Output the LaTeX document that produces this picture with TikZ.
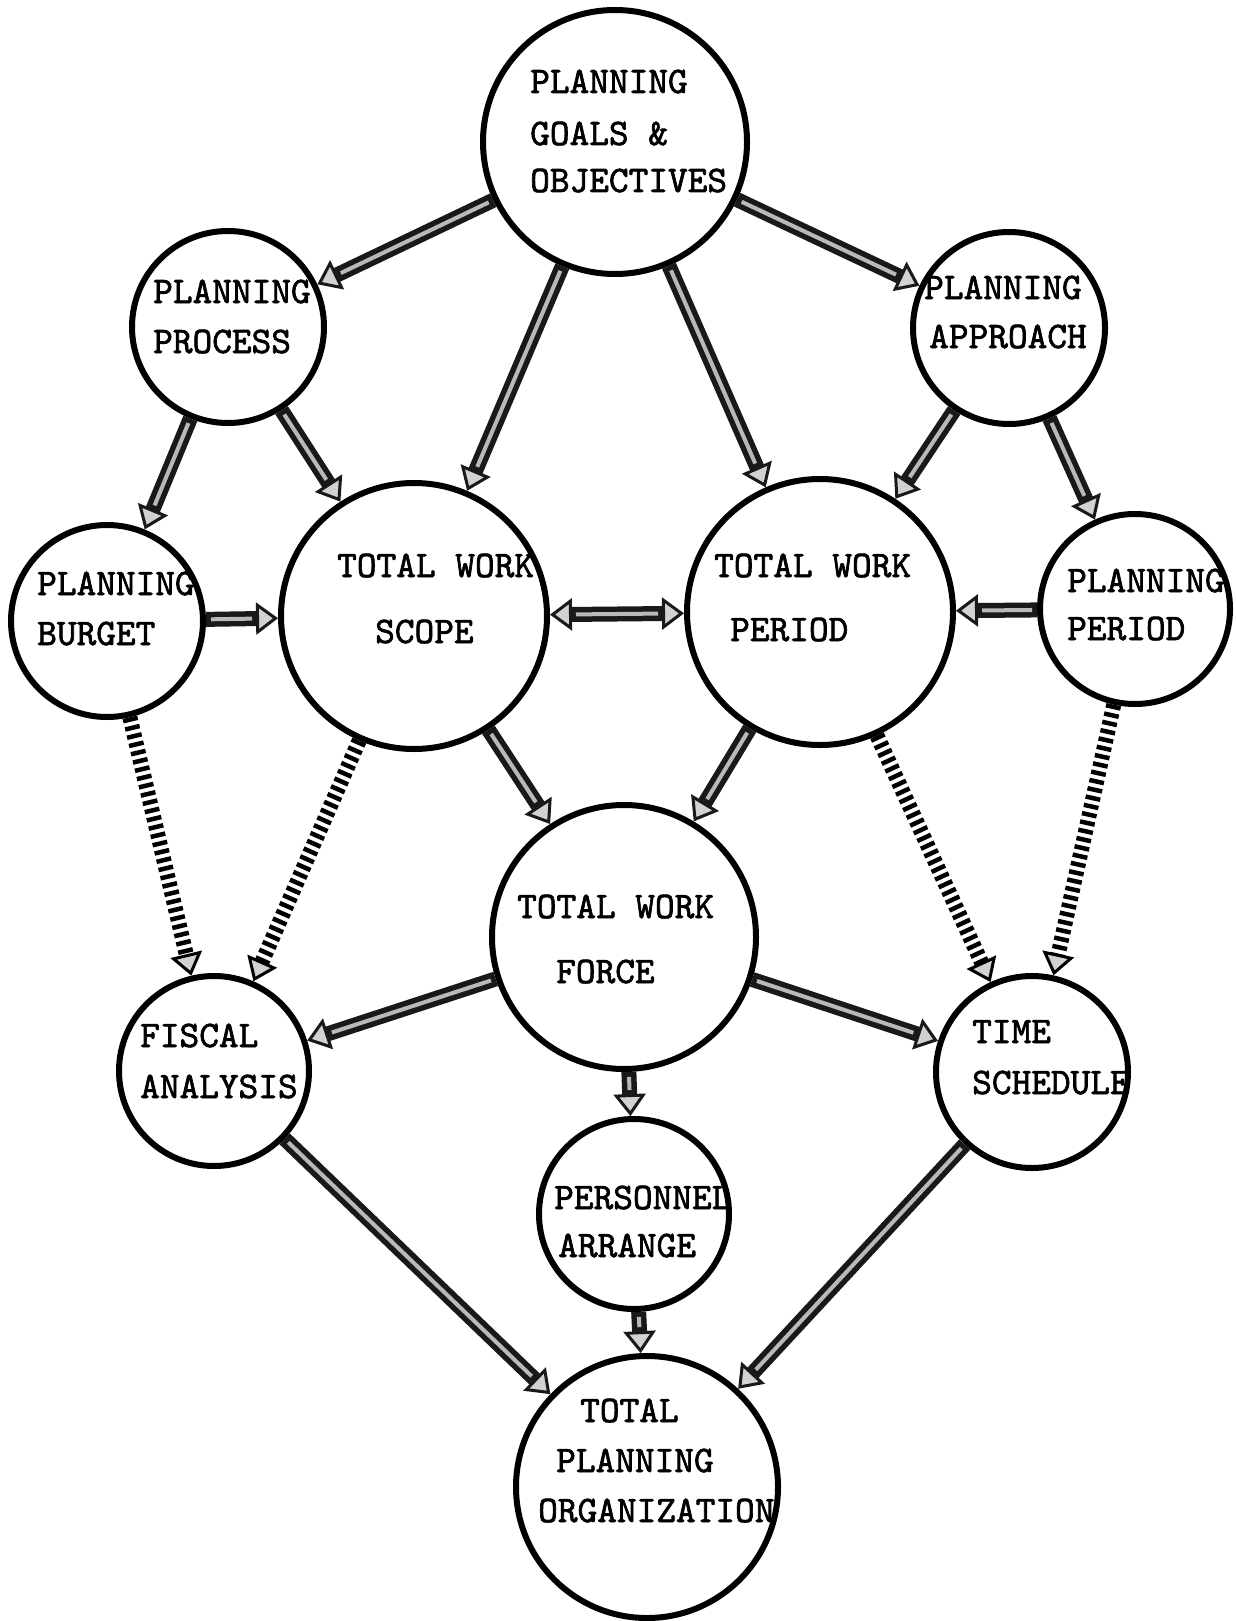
\documentclass[tikz,border=0pt]{standalone}
\usepackage{fontspec}
\newfontfamily\twfont{lmmono10-regular.otf}[FakeBold=1.8]
\usetikzlibrary{arrows.meta}
\begin{document}
\begin{tikzpicture}[x=1pt,y=-1pt,
  circ/.style={circle, draw=black, line width=6pt, minimum size=#1, inner sep=0pt, outer sep=3pt},
  lbl/.style={anchor=base west, inner sep=0pt, font=\twfont\fontsize{37.5}{45}\selectfont},
  >={Triangle[length=22pt,width=32pt,line width=3pt,fill=gray!35]},
  sol/.style={draw=black!90, line width=15pt, ->,
     postaction={draw=gray!55, line width=4pt, -, shorten >=26pt, shorten <=5pt}},
  soltwo/.style={draw=black!90, line width=15pt, <->,
     postaction={draw=gray!55, line width=4pt, -, shorten >=26pt, shorten <=26pt}},
  dsh/.style={draw=black, line width=15pt, dash pattern=on 4.5pt off 4pt, ->}
]
\useasboundingbox (0,0) rectangle (1235,1621);

% circles
\node[circ=264pt] (g)    at (615,142)  {};
\node[circ=192pt] (pp)   at (228,327)  {};
\node[circ=192pt] (pa)   at (1009,328) {};
\node[circ=192pt] (pb)   at (107,621)  {};
\node[circ=266pt] (ts)   at (414,616)  {};
\node[circ=266pt] (tp)   at (820,612)  {};
\node[circ=190pt] (ppd)  at (1135,609) {};
\node[circ=264pt] (tf)   at (624,937)  {};
\node[circ=190pt] (fa)   at (214,1071) {};
\node[circ=192pt] (tsch) at (1032,1072) {};
\node[circ=190pt] (pr)   at (634,1214) {};
\node[circ=262pt] (tpo)  at (647,1487) {};

% labels
\node[lbl] (g1) at (530,93)  {PLANNING};
\node[lbl] (g2) at (530,145) {GOALS \&};
\node[lbl] (g3) at (530,192) {OBJECTIVES};
\node[lbl] (pp1) at (153,303) {PLANNING};
\node[lbl] (pp2) at (153,353) {PROCESS};
\node[lbl] (pa1) at (924,299) {PLANNING};
\node[lbl] (pa2) at (929,348) {APPROACH};
\node[lbl] (pb1) at (37,595) {PLANNING};
\node[lbl] (pb2) at (37,645) {BURGET};
\node[lbl] (ts1) at (337,577) {TOTAL WORK};
\node[lbl] (ts2) at (375,643) {SCOPE};
\node[lbl] (tp1) at (714,577) {TOTAL WORK};
\node[lbl] (tp2) at (730,641) {PERIOD};
\node[lbl] (ppd1) at (1067,592) {PLANNING};
\node[lbl] (ppd2) at (1067,640) {PERIOD};
\node[lbl] (tf1) at (517,918) {TOTAL WORK};
\node[lbl] (tf2) at (556,983) {FORCE};
\node[lbl] (fa1) at (140,1047) {FISCAL};
\node[lbl] (fa2) at (140,1098) {ANALYSIS};
\node[lbl] (ti1) at (972,1043) {TIME};
\node[lbl] (ti2) at (972,1094) {SCHEDULE};
\node[lbl] (pr1) at (554,1209) {PERSONNEL};
\node[lbl] (pr2) at (558,1257) {ARRANGE};
\node[lbl] (o1) at (580,1422) {TOTAL};
\node[lbl] (o2) at (556,1472) {PLANNING};
\node[lbl] (o3) at (538,1522) {ORGANIZATION};

% solid connectors
\draw[sol] (g) -- (pp);
\draw[sol] (g) -- (pa);
\draw[sol] (g) -- (ts);
\draw[sol] (g) -- (tp);
\draw[sol] (pp) -- (pb);
\draw[sol] (pp) -- (ts);
\draw[sol] (pa) -- (tp);
\draw[sol] (pa) -- (ppd);
\draw[sol] (pb) -- (ts);
\draw[soltwo] (ts) -- (tp);
\draw[sol] (ppd) -- (tp);
\draw[sol] (ts) -- (tf);
\draw[sol] (tp) -- (tf);
\draw[sol] (tf) -- (fa);
\draw[sol] (tf) -- (tsch);
\draw[sol] (tf) -- (pr);
\draw[sol] (pr) -- (tpo);
\draw[sol] (fa) -- (tpo);
\draw[sol] (tsch) -- (tpo);

% dashed connectors
\draw[dsh] (pb) -- (fa);
\draw[dsh] (ts) -- (fa);
\draw[dsh] (tp) -- (tsch);
\draw[dsh] (ppd) -- (tsch);
\end{tikzpicture}
\end{document}
